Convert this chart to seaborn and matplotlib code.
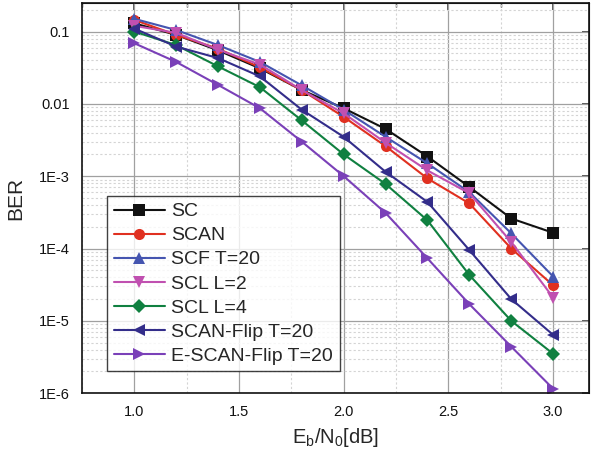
import numpy as np
import pandas as pd
import matplotlib
matplotlib.use('Agg')
import matplotlib.pyplot as plt
from matplotlib.ticker import MultipleLocator, LogLocator, NullFormatter
import seaborn as sns

# Data
ebn0 = [1.0, 1.2, 1.4, 1.6, 1.8, 2.0, 2.2, 2.4, 2.6, 2.8, 3.0]
sc = [0.13, 0.09, 0.055, 0.031, 0.0155, 0.0087, 0.0045, 0.00187, 0.00071, 0.00026, 0.000165]
scan = [0.145, 0.09, 0.058, 0.032, 0.0155, 0.0066, 0.0026, 0.00093, 0.00042, 0.0001, 3.1e-5]
scf = [0.15, 0.105, 0.065, 0.038, 0.018, 0.0083, 0.0035, 0.0015, 0.0006, 0.000162, 4.1e-5]
scl2 = [0.12, 0.096, 0.056, 0.035, 0.0155, 0.0074, 0.0029, 0.0012, 0.00058, 0.000123, 2.1e-5]
scl4 = [0.1, 0.065, 0.033, 0.017, 0.0059, 0.002, 0.00078, 0.000245, 4.3e-5, 1.0e-5, 3.5e-6]
scan_flip = [0.11, 0.062, 0.043, 0.024, 0.0083, 0.0035, 0.00115, 0.00044, 9.5e-5, 2.0e-5, 6.4e-6]
escan_flip = [0.069, 0.038, 0.0183, 0.0087, 0.003, 0.001, 0.00031, 7.3e-5, 1.7e-5, 4.4e-6, 1.15e-6]

names = ['SC', 'SCAN', 'SCF T=20', 'SCL L=2', 'SCL L=4', 'SCAN-Flip T=20', 'E-SCAN-Flip T=20']
series = [sc, scan, scf, scl2, scl4, scan_flip, escan_flip]
colors = ['#111111', '#e03020', '#4555b0', '#c050b0', '#108040', '#332d8a', '#7a40b8']
markers = ['s', 'o', '^', 'v', 'D', '<', '>']

rows = []
for name, vals in zip(names, series):
    for x, v in zip(ebn0, vals):
        rows.append({'EbN0': x, 'BER': v, 'scheme': name})
df = pd.DataFrame(rows)

sns.set_style('white')
plt.rcParams['font.family'] = ['Liberation Sans', 'DejaVu Sans']

fig = plt.figure(figsize=(6.02, 4.62), dpi=100)
ax = fig.add_axes([0.136, 0.149, 0.842, 0.845])

for name, c, m in zip(names, colors, markers):
    sub = df[df['scheme'] == name]
    ms = 9 if m in ('^', 'v', '<', '>') else 8
    if m == 'D':
        ms = 7.5
    sns.lineplot(data=sub, x='EbN0', y='BER', ax=ax, color=c, marker=m,
                 markersize=ms, markeredgewidth=0, linewidth=1.5, label=name)

ax.set_yscale('log')
ax.set_xlim(0.75, 3.17)
ax.set_ylim(1e-6, 0.25)

ax.xaxis.set_major_locator(MultipleLocator(0.5))
ax.xaxis.set_minor_locator(MultipleLocator(0.25))
ax.set_xticks([1.0, 1.5, 2.0, 2.5, 3.0])
ax.set_xticklabels(['1.0', '1.5', '2.0', '2.5', '3.0'])
ax.set_yticks([1e-6, 1e-5, 1e-4, 1e-3, 1e-2, 1e-1])
ax.set_yticklabels(['1E-6', '1E-5', '1E-4', '1E-3', '0.01', '0.1'])
ax.yaxis.set_minor_locator(LogLocator(base=10, subs=np.arange(2, 10), numticks=20))
ax.yaxis.set_minor_formatter(NullFormatter())

ax.grid(True, which='major', color='#a0a0a0', linewidth=0.9, linestyle='-')
ax.grid(True, which='minor', color='#d4d4d4', linewidth=0.8, linestyle=(0, (2, 2)))
ax.set_axisbelow(True)

for s in ax.spines.values():
    s.set_color('#111111')
    s.set_linewidth(1.2)

ax.tick_params(axis='both', which='major', direction='out', length=5, width=1.1,
               labelsize=10.5, colors='#111111')
ax.tick_params(axis='both', which='minor', direction='out', length=3, width=1.0)
ax.tick_params(axis='y', which='minor', length=2.5)

# inward ticks on top and right
ax2 = ax.secondary_xaxis('top')
ax2.set_xticks([1.0, 1.5, 2.0, 2.5, 3.0])
ax2.xaxis.set_minor_locator(MultipleLocator(0.25))
ax2.tick_params(which='major', direction='in', length=5, width=1.1, labeltop=False)
ax2.tick_params(which='minor', direction='in', length=3, width=1.0)
ax3 = ax.secondary_yaxis('right')
ax3.set_yticks([1e-6, 1e-5, 1e-4, 1e-3, 1e-2, 1e-1])
ax3.yaxis.set_minor_locator(plt.NullLocator())
ax3.tick_params(which='major', direction='in', length=5, width=1.1, labelright=False)

ax.set_xlabel('E$_\\mathregular{b}$/N$_\\mathregular{0}$[dB]', fontsize=14.5, labelpad=5)
ax.set_ylabel('BER', fontsize=15, labelpad=10)

leg = ax.legend(loc='upper left', bbox_to_anchor=(0.05, 0.505), fontsize=14,
                frameon=True, fancybox=False, edgecolor='#111111',
                handlelength=2.6, handletextpad=0.35, labelspacing=0.33,
                borderpad=0.35, borderaxespad=0)
leg.get_frame().set_linewidth(1.0)

fig.savefig('out.png', dpi=100)
